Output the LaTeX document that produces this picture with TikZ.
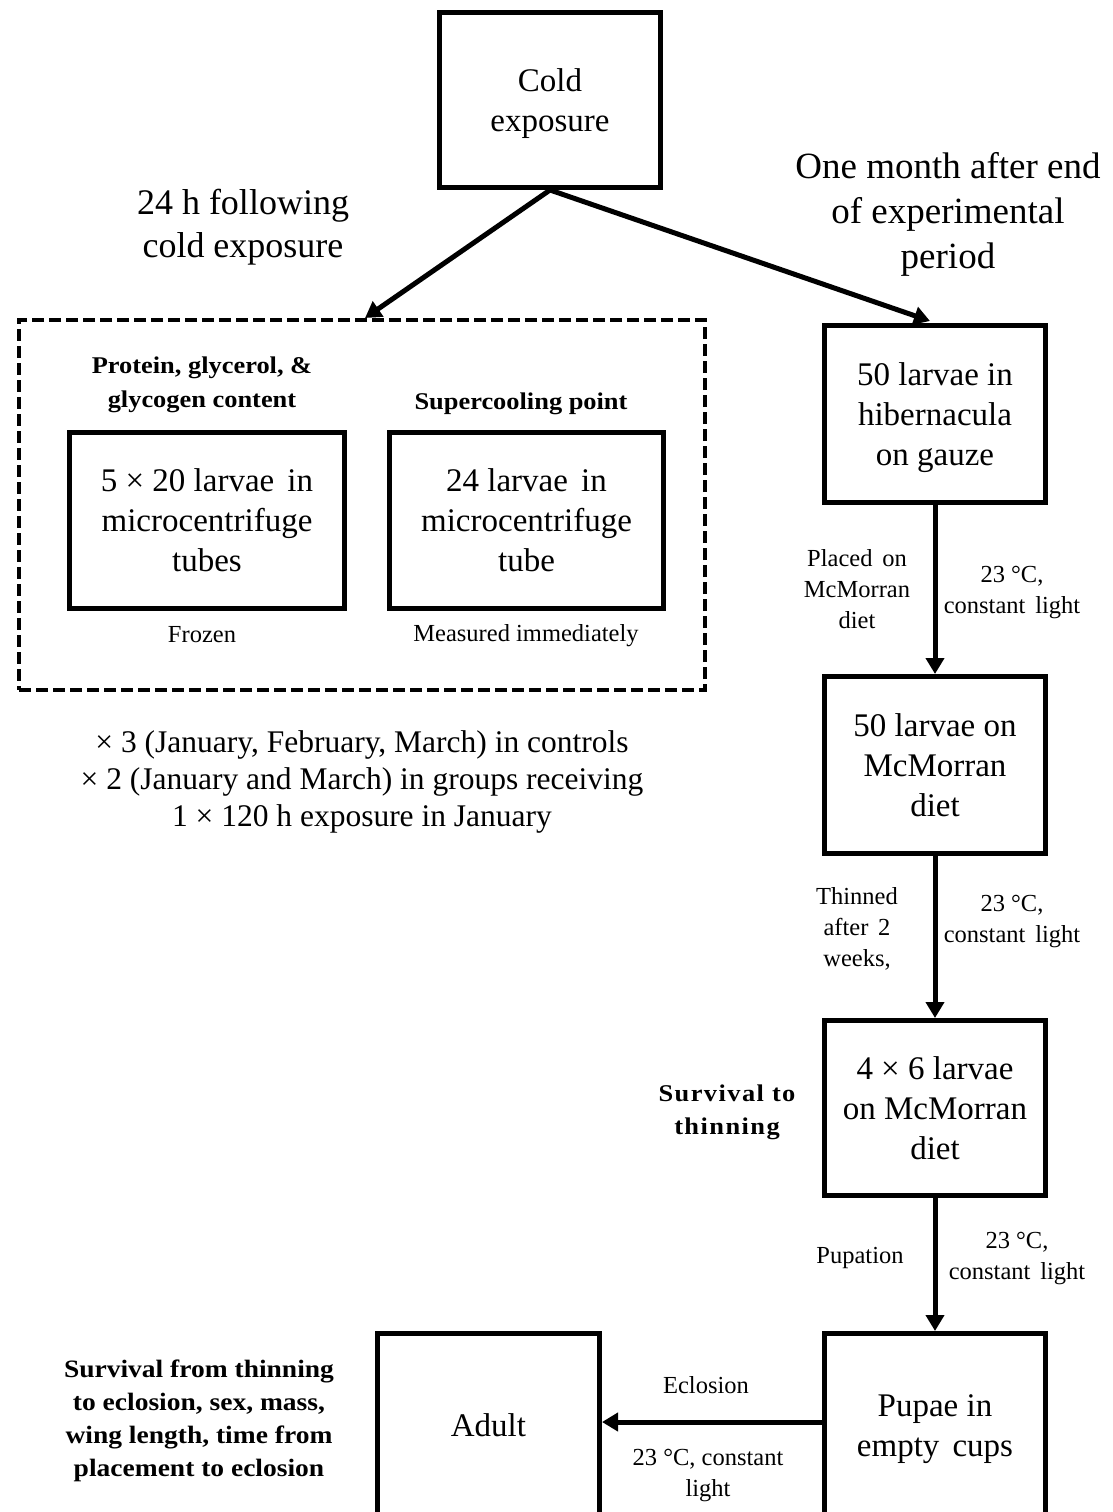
\documentclass[tikz,border=0pt]{standalone}
\usepackage{fontspec}
\setmainfont{Liberation Serif}
\newfontfamily\widebold[FakeStretch=1.1]{Liberation Serif Bold}
\usetikzlibrary{arrows.meta}
\newcommand{\wsp}{\hspace{0.4em}}
\begin{document}
\begin{tikzpicture}[x=1pt,y=-1pt,
  box/.style={draw, line width=5pt, minimum width=221pt, minimum height=177pt, inner sep=0pt, align=center, text depth=0pt, font=\fontsize{33}{40}\selectfont},
  inbox/.style={draw, line width=4.5pt, minimum width=275pt, minimum height=176pt, inner sep=0pt, align=center, font=\fontsize{33}{40}\selectfont},
  btext/.style={inner sep=0pt, align=center, font=\fontsize{33}{40}\selectfont},
  arr/.style={line width=5pt, -{Triangle[length=16pt,width=18pt]}},
  lab/.style={align=center, inner sep=0pt, font=\fontsize{24.5}{31}\selectfont},
  blab/.style={align=center, inner sep=0pt, font=\widebold\fontsize{24}{33}\selectfont},
  big/.style={align=center, inner sep=0pt, font=\fontsize{37}{45}\selectfont},
  note/.style={align=center, inner sep=0pt, font=\fontsize{31.5}{37}\selectfont},
]
\useasboundingbox (0,0) rectangle (1113,1512);

% boxes
\node[box, minimum height=175pt, text depth=-3pt] (cold) at (550,100) {Cold\\exposure};
\node[draw, line width=4pt, dash pattern=on 12pt off 5pt, minimum width=686pt, minimum height=370pt, inner sep=0pt] (dash) at (362,505) {};
\node[inbox] (tubes) at (207,520.5) {5 × 20 larvae\wsp in\\microcentrifuge\\tubes};
\node[inbox, minimum width=274pt] (tube) at (526.5,520.5) {24 larvae\wsp in\\microcentrifuge\\tube};
\node[box] (hib) at (935,414) {50 larvae in\\hibernacula\\on gauze};
\node[box] (diet) at (935,765) {50 larvae on\\McMorran\\diet};
\node[box, minimum height=175pt] (thin) at (935,1108) {4 × 6 larvae\\on McMorran\\diet};
\node[box, minimum height=210pt] (pupae) at (935,1438.5) {};
\node[btext] at (935,1429) {Pupae in\\empty\wsp cups};
\node[box, minimum width=222pt, minimum height=210pt] (adult) at (488.5,1438.5) {};
\node[btext] at (488.5,1425) {Adult};

% texts
\node[big, font=\fontsize{36}{43}\selectfont] at (243,227) {24 h following\\cold exposure};
\node[big] at (948,214) {One month after end\\of experimental\\period};
\node[blab, font=\widebold\fontsize{24}{34}\selectfont] at (202,385) {Protein, glycerol, \&\\glycogen content};
\node[blab, font=\widebold\fontsize{24}{34}\selectfont] at (521,404) {Supercooling point};
\node[lab] at (202,635) {Frozen};
\node[lab] at (526,636) {Measured immediately};
\node[note] at (362,782) {× 3 (January, February, March) in controls\\× 2 (January and March) in groups receiving\\1 × 120 h exposure in January};

\node[lab] at (857,589) {Placed\wsp on\\McMorran\\diet};
\node[lab] at (1012,592) {23 °C,\\constant\wsp light};
\node[lab] at (857,929) {Thinned\\after\wsp 2\\weeks,};
\node[lab] at (1012,921) {23 °C,\\constant\wsp light};
\node[blab, font=\widebold\addfontfeatures{LetterSpace=6}\fontsize{24}{33}\selectfont] at (727,1112) {Survival to\\thinning};
\node[lab] at (860,1258) {Pupation};
\node[lab] at (1017,1258) {23 °C,\\constant\wsp light};
\node[lab] at (706,1385) {Eclosion};
\node[lab] at (708,1475) {23 °C, constant\\light};
\node[blab, font=\widebold\fontsize{25}{33}\selectfont] at (199,1421) {Survival from thinning\\to eclosion, sex, mass,\\wing length, time from\\placement to eclosion};

% connectors
\coordinate (lt) at (365,318);
\coordinate (rt) at (930,321);
\coordinate (ecl) at (0,1422);
\draw[arr] (cold.south) -- (lt);
\draw[arr] (cold.south) -- (rt);
\draw[arr] (hib.south) -- (diet.north);
\draw[arr] (diet.south) -- (thin.north);
\draw[arr] (thin.south) -- (pupae.north);
\draw[arr] (pupae.west |- ecl) -- (adult.east |- ecl);
\end{tikzpicture}
\end{document}
